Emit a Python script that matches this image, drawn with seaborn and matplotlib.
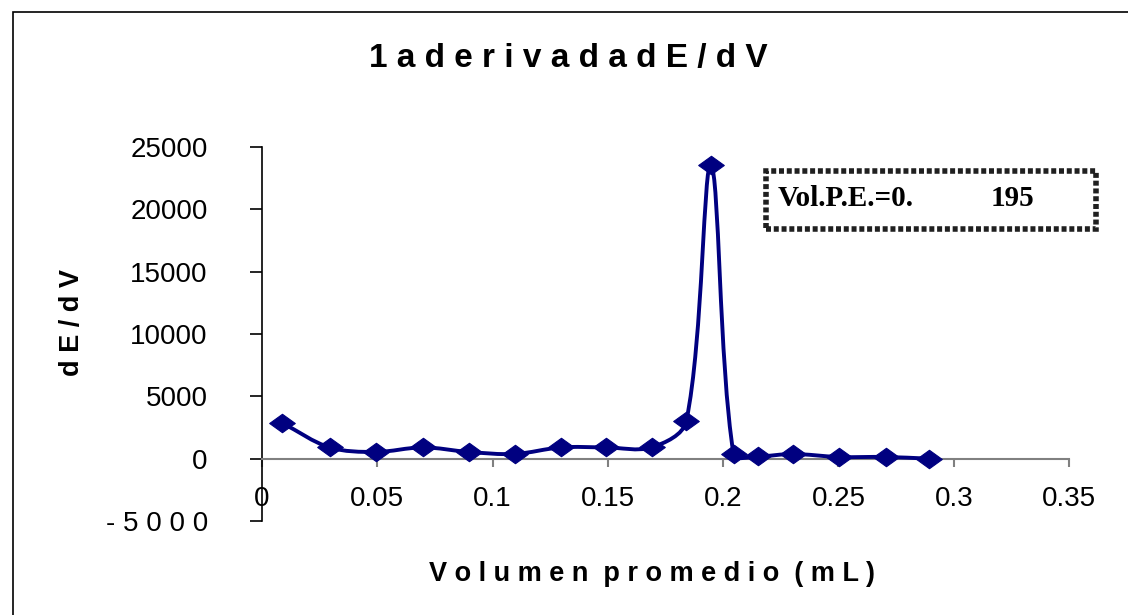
import numpy as np
import matplotlib
matplotlib.use("Agg")
import matplotlib.pyplot as plt
from matplotlib.path import Path
from matplotlib.patches import PathPatch, Rectangle
import seaborn as sns

# valores
vol_promedio = [0.0088, 0.0293, 0.0494, 0.0697, 0.0898, 0.1096, 0.1297, 0.1490, 0.1690,
                0.1840, 0.1947, 0.2045, 0.2152, 0.2301, 0.2503, 0.2705, 0.2893]
dE_dV = [2860, 905, 537, 905, 537, 376, 905, 905, 905,
         2990, 23560, 376, 184, 376, 136, 136, 0]

x_ticks = [0, 0.05, 0.1, 0.15, 0.2, 0.25, 0.3, 0.35]
x_labels = ["0", "0.05", "0.1", "0.15", "0.2", "0.25", "0.3", "0.35"]
y_ticks = [-5000, 0, 5000, 10000, 15000, 20000, 25000]
y_labels = ["- 5 0 0 0", "0", "5000", "10000", "15000", "20000", "25000"]

titulo = "1 a d e r i v a d a d E / d V"
etiqueta_x = "V o l u m e n  p r o m e d i o  ( m L )"
etiqueta_y = "d E / d V"
texto_pe = "Vol.P.E.=0."
texto_vol = "195"

sns.set_style("white")
plt.rcParams['font.family'] = ['Liberation Sans', 'DejaVu Sans']
plt.rcParams['text.color'] = 'black'
plt.rcParams['xtick.color'] = 'black'
plt.rcParams['ytick.color'] = 'black'

azul = "#000080"

fig = plt.figure(figsize=(11.28, 6.15), dpi=100)
ax = fig.add_axes([262 / 1128, 1 - 521 / 615, (1069 - 262) / 1128, (521 - 147) / 615])
ax.set_xlim(0, 0.35)
ax.set_ylim(-5000, 25000)

# linea suavizada tipo Excel: bezier calculada en pixeles
pix = ax.transData.transform(np.column_stack([vol_promedio, dE_dV]))
n = len(pix)
verts = [pix[0]]
codes = [Path.MOVETO]
for i in range(n - 1):
    p0 = pix[max(i - 1, 0)]
    p1 = pix[i]
    p2 = pix[i + 1]
    p3 = pix[min(i + 2, n - 1)]
    l01 = np.hypot(*(p1 - p0))
    l12 = np.hypot(*(p2 - p1))
    l23 = np.hypot(*(p3 - p2))
    c1 = p1 + (p2 - p0) * (l12 / max(l01 + l12, 1e-9)) / 3.0 if i > 0 else p1 + (p2 - p1) / 3.0
    c2 = p2 - (p3 - p1) * (l12 / max(l12 + l23, 1e-9)) / 3.0 if i < n - 2 else p2 - (p2 - p1) / 3.0
    verts += [c1, c2, p2]
    codes += [Path.CURVE4, Path.CURVE4, Path.CURVE4]
verts = ax.transData.inverted().transform(np.array(verts))
ax.add_patch(PathPatch(Path(verts, codes), facecolor="none", edgecolor=azul,
                       lw=2.8, zorder=3, capstyle="round", joinstyle="round"))

rombo = Path([(-1, 0), (0, 0.72), (1, 0), (0, -0.72), (-1, 0)],
             [Path.MOVETO, Path.LINETO, Path.LINETO, Path.LINETO, Path.CLOSEPOLY])
sns.scatterplot(x=vol_promedio, y=dE_dV, ax=ax, marker=rombo, s=340,
                color=azul, edgecolor=azul, linewidth=0.8, zorder=4)

ax.set_xticks(x_ticks)
ax.set_xticklabels(x_labels)
ax.set_yticks(y_ticks)
ax.set_yticklabels(y_labels)

for s in ["top", "right"]:
    ax.spines[s].set_visible(False)
ax.spines["bottom"].set_position(("data", 0))
ax.spines["bottom"].set_color("#808080")
ax.spines["bottom"].set_linewidth(1.5)
ax.spines["left"].set_color("black")
ax.spines["left"].set_linewidth(1.2)

ax.tick_params(axis="x", bottom=True, direction="out", length=6, width=1.5, color="#808080",
               pad=14, labelsize=20, labelcolor="black")
ax.tick_params(axis="y", left=True, direction="out", length=9, width=1.2, color="black",
               pad=30, labelsize=20, labelcolor="black")
ax.set_xlabel("")
ax.set_ylabel("")

fig.text(568 / 1128, 1 - 58 / 615, titulo, ha="center", va="center",
         fontsize=24, fontweight="bold")
fig.text(652 / 1128, 1 - 574 / 615, etiqueta_x, ha="center", va="center",
         fontsize=19.5, fontweight="bold")
fig.text(72 / 1128, 1 - 323 / 615, etiqueta_y, ha="center", va="center",
         rotation=90, fontsize=19.5, fontweight="bold")

# recuadro con el volumen del punto de equivalencia
fig.patches.append(Rectangle((766 / 1128, 1 - 229 / 615), 330 / 1128, 58 / 615,
                             transform=fig.transFigure, facecolor="white",
                             edgecolor="#202020", lw=4, linestyle=(0, (0.9, 0.5)), zorder=5))
fig.text(778 / 1128, 1 - 199 / 615, texto_pe, ha="left", va="center",
         fontsize=21, fontweight="bold", family="Liberation Serif", zorder=6)
fig.text(991 / 1128, 1 - 199 / 615, texto_vol, ha="left", va="center",
         fontsize=21, fontweight="bold", family="Liberation Serif", zorder=6)

# marco exterior
fig.patches.append(Rectangle((13 / 1128, -0.05), 1.1, 1 - 12 / 615 + 0.05,
                             transform=fig.transFigure, facecolor="none",
                             edgecolor="black", lw=1.2))

fig.savefig("out.png", dpi=100)
